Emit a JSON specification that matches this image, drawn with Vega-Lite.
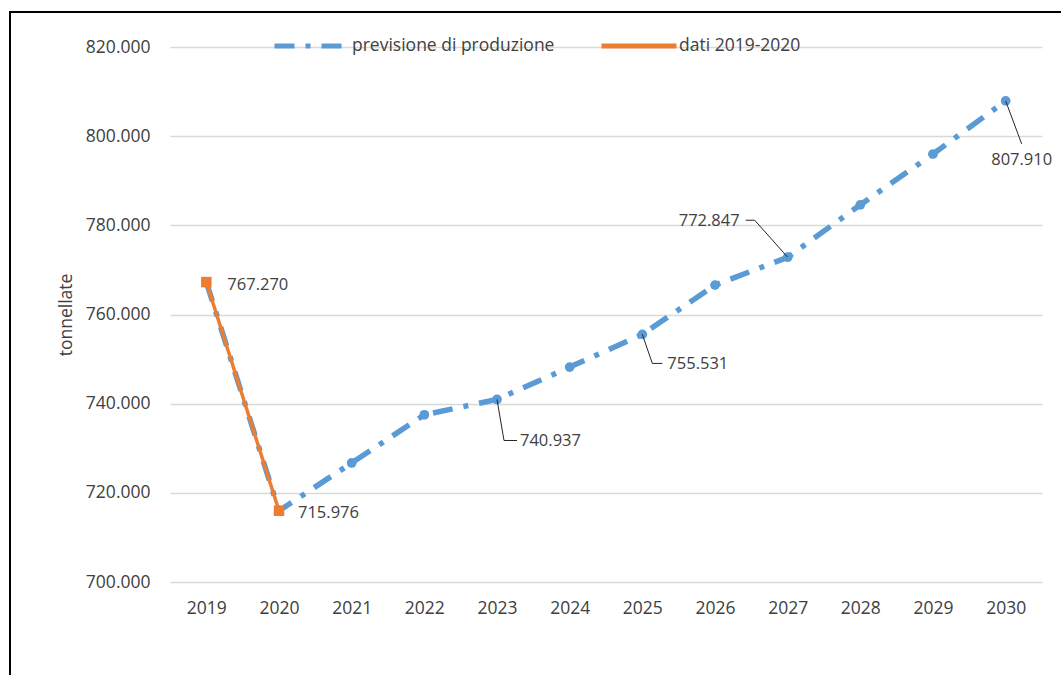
{
  "$schema": "https://vega.github.io/schema/vega-lite/v6.json",
  "width": 1054,
  "height": 666,
  "autosize": {"type": "none"},
  "padding": {"left": 10, "top": 12, "right": -3, "bottom": -3},
  "background": "white",
  "config": {
    "view": {"stroke": "#000000", "strokeWidth": 2},
    "font": "Open Sans",
    "locale": {"number": {"decimal": ",", "thousands": ".", "grouping": [3], "currency": ["", " €"]}},
    "legend": {
      "orient": "none",
      "direction": "horizontal",
      "legendX": 262,
      "legendY": -6,
      "padding": 0,
      "symbolType": "stroke",
      "symbolSize": 5625,
      "symbolStrokeWidth": 5,
      "labelFont": "Open Sans",
      "labelFontSize": 17.5,
      "labelColor": "#404040",
      "labelOffset": 0,
      "labelLimit": 400,
      "columnPadding": 36
    }
  },
  "data": {
    "values": [
      {"year": "2019", "series": "previsione di produzione", "value": 767270},
      {"year": "2020", "series": "previsione di produzione", "value": 715976},
      {"year": "2021", "series": "previsione di produzione", "value": 726700},
      {"year": "2022", "series": "previsione di produzione", "value": 737500},
      {"year": "2023", "series": "previsione di produzione", "value": 740937},
      {"year": "2024", "series": "previsione di produzione", "value": 748200},
      {"year": "2025", "series": "previsione di produzione", "value": 755531},
      {"year": "2026", "series": "previsione di produzione", "value": 766600},
      {"year": "2027", "series": "previsione di produzione", "value": 772847},
      {"year": "2028", "series": "previsione di produzione", "value": 784600},
      {"year": "2029", "series": "previsione di produzione", "value": 796000},
      {"year": "2030", "series": "previsione di produzione", "value": 807910},
      {"year": "2019", "series": "dati 2019-2020", "value": 767270},
      {"year": "2020", "series": "dati 2019-2020", "value": 715976}
    ]
  },
  "encoding": {
    "x": {
      "field": "year",
      "type": "ordinal",
      "scale": {"type": "point", "range": [160, 1032], "padding": 0.5},
      "axis": {
        "title": null,
        "orient": "bottom",
        "offset": -96,
        "domain": false,
        "ticks": false,
        "tickSize": 0,
        "grid": false,
        "labelAngle": 0,
        "labelBaseline": "middle",
        "labelPadding": 26,
        "labelFont": "Open Sans",
        "labelFontSize": 17.5,
        "labelColor": "#404040"
      }
    },
    "y": {
      "field": "value",
      "type": "quantitative",
      "scale": {"domain": [700000, 820000], "range": [570, 35], "nice": false, "zero": false},
      "axis": {
        "title": "tonnellate",
        "orient": "left",
        "offset": -160,
        "values": [700000, 720000, 740000, 760000, 780000, 800000, 820000],
        "format": ",d",
        "domain": false,
        "ticks": false,
        "tickSize": 0,
        "grid": true,
        "gridColor": "#d9d9d9",
        "gridWidth": 1.3,
        "labelPadding": 20,
        "labelFont": "Open Sans",
        "labelFontSize": 17.5,
        "labelColor": "#404040",
        "titleFont": "Open Sans",
        "titleFontSize": 17.5,
        "titleFontWeight": "normal",
        "titleColor": "#404040",
        "titlePadding": 10
      }
    }
  },
  "layer": [
    {
      "transform": [{"filter": "datum.series === 'previsione di produzione'"}],
      "mark": {"type": "line", "strokeWidth": 5.5, "strokeCap": "butt"},
      "encoding": {
        "color": {"field": "series", "type": "nominal", "title": null,
          "scale": {"domain": ["previsione di produzione", "dati 2019-2020"], "range": ["#5B9BD5", "#ED7D31"]}},
        "strokeDash": {"field": "series", "type": "nominal", "title": null,
          "scale": {"domain": ["previsione di produzione", "dati 2019-2020"], "range": [[20, 11, 5, 11], [1, 0]]}}
      }
    },
    {
      "transform": [{"filter": "datum.series === 'previsione di produzione'"}],
      "mark": {"type": "point", "shape": "circle", "filled": true, "size": 95, "opacity": 1, "color": "#5B9BD5"}
    },
    {
      "transform": [{"filter": "datum.series === 'dati 2019-2020'"}],
      "mark": {"type": "line", "strokeWidth": 3.5},
      "encoding": {
        "color": {"field": "series", "type": "nominal", "title": null,
          "scale": {"domain": ["previsione di produzione", "dati 2019-2020"], "range": ["#5B9BD5", "#ED7D31"]}},
        "strokeDash": {"field": "series", "type": "nominal", "title": null,
          "scale": {"domain": ["previsione di produzione", "dati 2019-2020"], "range": [[20, 11, 5, 11], [1, 0]]}}
      }
    },
    {
      "transform": [{"filter": "datum.series === 'dati 2019-2020'"}],
      "mark": {"type": "point", "shape": "square", "filled": true, "size": 110, "opacity": 1, "color": "#ED7D31"}
    },
    {
      "transform": [{"filter": "datum.series === 'previsione di produzione' && datum.year === '2023'"}],
      "mark": {"type": "rule", "color": "#262626", "strokeWidth": 1, "x2Offset": 7, "y2Offset": 41},
      "encoding": {"x2": {"field": "year"}, "y2": {"field": "value"}}
    },
    {
      "transform": [{"filter": "datum.series === 'previsione di produzione' && datum.year === '2023'"}],
      "mark": {"type": "rule", "color": "#262626", "strokeWidth": 1, "xOffset": 7, "yOffset": 41, "x2Offset": 20, "y2Offset": 41},
      "encoding": {"x2": {"field": "year"}, "y2": {"field": "value"}}
    },
    {
      "transform": [{"filter": "datum.series === 'previsione di produzione' && datum.year === '2025'"}],
      "mark": {"type": "rule", "color": "#262626", "strokeWidth": 1, "x2Offset": 10, "y2Offset": 29},
      "encoding": {"x2": {"field": "year"}, "y2": {"field": "value"}}
    },
    {
      "transform": [{"filter": "datum.series === 'previsione di produzione' && datum.year === '2025'"}],
      "mark": {"type": "rule", "color": "#262626", "strokeWidth": 1, "xOffset": 10, "yOffset": 29, "x2Offset": 20, "y2Offset": 29},
      "encoding": {"x2": {"field": "year"}, "y2": {"field": "value"}}
    },
    {
      "transform": [{"filter": "datum.series === 'previsione di produzione' && datum.year === '2027'"}],
      "mark": {"type": "rule", "color": "#262626", "strokeWidth": 1, "x2Offset": -33, "y2Offset": -37},
      "encoding": {"x2": {"field": "year"}, "y2": {"field": "value"}}
    },
    {
      "transform": [{"filter": "datum.series === 'previsione di produzione' && datum.year === '2027'"}],
      "mark": {"type": "rule", "color": "#262626", "strokeWidth": 1, "xOffset": -33, "yOffset": -37, "x2Offset": -42, "y2Offset": -37},
      "encoding": {"x2": {"field": "year"}, "y2": {"field": "value"}}
    },
    {
      "transform": [{"filter": "datum.series === 'previsione di produzione' && datum.year === '2030'"}],
      "mark": {"type": "rule", "color": "#262626", "strokeWidth": 1, "x2Offset": 16, "y2Offset": 43},
      "encoding": {"x2": {"field": "year"}, "y2": {"field": "value"}}
    },
    {
      "transform": [{"filter": "datum.series === 'dati 2019-2020' && datum.year === '2019'"}],
      "mark": {"type": "text", "align": "left", "baseline": "middle", "dx": 21, "dy": 3, "fontSize": 16.5, "color": "#404040", "font": "Open Sans"},
      "encoding": {"text": {"field": "value", "type": "quantitative", "format": ",d"}}
    },
    {
      "transform": [{"filter": "datum.series === 'dati 2019-2020' && datum.year === '2020'"}],
      "mark": {"type": "text", "align": "left", "baseline": "middle", "dx": 19, "dy": 2, "fontSize": 16.5, "color": "#404040", "font": "Open Sans"},
      "encoding": {"text": {"field": "value", "type": "quantitative", "format": ",d"}}
    },
    {
      "transform": [{"filter": "datum.series === 'previsione di produzione' && datum.year === '2023'"}],
      "mark": {"type": "text", "align": "left", "baseline": "middle", "dx": 23, "dy": 42, "fontSize": 16.5, "color": "#404040", "font": "Open Sans"},
      "encoding": {"text": {"field": "value", "type": "quantitative", "format": ",d"}}
    },
    {
      "transform": [{"filter": "datum.series === 'previsione di produzione' && datum.year === '2025'"}],
      "mark": {"type": "text", "align": "left", "baseline": "middle", "dx": 25, "dy": 30, "fontSize": 16.5, "color": "#404040", "font": "Open Sans"},
      "encoding": {"text": {"field": "value", "type": "quantitative", "format": ",d"}}
    },
    {
      "transform": [{"filter": "datum.series === 'previsione di produzione' && datum.year === '2027'"}],
      "mark": {"type": "text", "align": "right", "baseline": "middle", "dx": -48, "dy": -36, "fontSize": 16.5, "color": "#404040", "font": "Open Sans"},
      "encoding": {"text": {"field": "value", "type": "quantitative", "format": ",d"}}
    },
    {
      "transform": [{"filter": "datum.series === 'previsione di produzione' && datum.year === '2030'"}],
      "mark": {"type": "text", "align": "center", "baseline": "middle", "dx": 16, "dy": 59, "fontSize": 16.5, "color": "#404040", "font": "Open Sans"},
      "encoding": {"text": {"field": "value", "type": "quantitative", "format": ",d"}}
    }
  ]
}
